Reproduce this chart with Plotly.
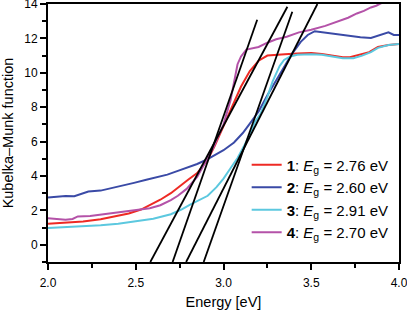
import plotly.graph_objects as go

# Curve 1 (red)
e1 = [2.0, 2.1, 2.2, 2.3, 2.39, 2.46, 2.53, 2.58, 2.64, 2.70, 2.75, 2.80, 2.85, 2.91, 2.95, 2.97, 3.0, 3.05, 3.10, 3.15, 3.20, 3.25, 3.30, 3.35, 3.42, 3.50, 3.56, 3.62, 3.68, 3.72, 3.78, 3.83, 3.88, 3.94, 4.0]
k1 = [1.22, 1.28, 1.36, 1.48, 1.65, 1.82, 2.05, 2.3, 2.62, 3.0, 3.42, 3.8, 4.17, 4.94, 5.75, 6.2, 6.95, 8.1, 9.2, 10.1, 10.7, 11.0, 11.05, 11.08, 11.12, 11.15, 11.1, 11.0, 10.9, 10.9, 11.05, 11.2, 11.5, 11.62, 11.68]

# Curve 2 (blue)
e2 = [2.0, 2.05, 2.1, 2.15, 2.2, 2.23, 2.3, 2.37, 2.43, 2.49, 2.56, 2.62, 2.68, 2.74, 2.79, 2.85, 2.9, 2.95, 3.0, 3.06, 3.11, 3.15, 3.20, 3.25, 3.30, 3.345, 3.39, 3.44, 3.48, 3.52, 3.57, 3.63, 3.70, 3.78, 3.84, 3.90, 3.94, 3.97, 4.0]
k2 = [2.75, 2.8, 2.83, 2.82, 3.0, 3.1, 3.15, 3.3, 3.45, 3.6, 3.78, 3.92, 4.08, 4.3, 4.48, 4.7, 4.93, 5.2, 5.5, 5.95, 6.5, 7.05, 7.75, 8.7, 9.55, 10.35, 11.1, 11.8, 12.2, 12.42, 12.35, 12.28, 12.2, 12.07, 12.02, 12.2, 12.35, 12.2, 12.2]

# Curve 3 (cyan)
e3 = [2.0, 2.1, 2.2, 2.3, 2.4, 2.5, 2.6, 2.7, 2.76, 2.81, 2.86, 2.91, 2.96, 3.0, 3.04, 3.08, 3.12, 3.15, 3.18, 3.21, 3.25, 3.28, 3.32, 3.345, 3.38, 3.42, 3.5, 3.56, 3.62, 3.68, 3.74, 3.79, 3.84, 3.88, 3.94, 4.0]
k3 = [0.97, 1.02, 1.07, 1.14, 1.22, 1.35, 1.52, 1.78, 2.05, 2.33, 2.6, 2.85, 3.35, 3.85, 4.45, 5.05, 5.8, 6.4, 7.15, 7.6, 8.6, 9.5, 10.4, 10.75, 10.95, 11.05, 11.08, 11.05, 10.95, 10.85, 10.85, 11.0, 11.2, 11.45, 11.62, 11.68]

# Curve 4 (magenta)
e4 = [2.0, 2.05, 2.1, 2.14, 2.17, 2.24, 2.3, 2.36, 2.43, 2.5, 2.58, 2.64, 2.70, 2.74, 2.79, 2.85, 2.9, 2.94, 2.97, 3.0, 3.04, 3.08, 3.10, 3.13, 3.2, 3.25, 3.3, 3.36, 3.43, 3.5, 3.58, 3.65, 3.71, 3.76, 3.80, 3.84, 3.87, 3.9, 3.95]
k4 = [1.55, 1.52, 1.45, 1.5, 1.65, 1.68, 1.76, 1.86, 1.94, 2.02, 2.13, 2.3, 2.6, 2.85, 3.25, 3.95, 4.85, 5.6, 6.3, 7.0, 8.4, 10.5, 10.95, 11.35, 11.5, 11.75, 11.95, 12.1, 12.35, 12.5, 12.73, 13.0, 13.2, 13.45, 13.6, 13.8, 13.9, 14.05, 14.3]

# Tangent lines (endpoints)
tan_e = [[2.710, 3.192], [2.583, 3.364], [2.887, 3.392], [2.787, 3.535]]
tan_k = [[-1.0, 13.08], [-1.0, 13.84], [-1.0, 13.55], [-1.0, 14.0]]

labels = ["<b>1</b>: <i>E</i><sub>g</sub> = 2.76 eV",
          "<b>2</b>: <i>E</i><sub>g</sub> = 2.60 eV",
          "<b>3</b>: <i>E</i><sub>g</sub> = 2.91 eV",
          "<b>4</b>: <i>E</i><sub>g</sub> = 2.70 eV"]
colors = ["#ee2a24", "#3a4aa6", "#5cc8df", "#b452a8"]

fig = go.Figure()
for i, (e, k) in enumerate([(e1, k1), (e2, k2), (e3, k3), (e4, k4)]):
    fig.add_trace(go.Scatter(x=e, y=k, mode="lines", name=labels[i],
                             legendgroup=str(i),
                             line=dict(color=colors[i], width=2)))
for e, k in zip(tan_e, tan_k):
    fig.add_trace(go.Scatter(x=e, y=k, mode="lines", showlegend=False,
                             line=dict(color="black", width=1.8)))

font = "Arial, Liberation Sans, sans-serif"
fig.update_layout(
    width=407, height=310,
    margin=dict(l=48, r=8, t=4, b=48),
    plot_bgcolor="white", paper_bgcolor="white",
    font=dict(family=font, size=12, color="black"),
    showlegend=True,
    legend=dict(x=0.566, y=0.246, xanchor="left", yanchor="middle",
                bgcolor="rgba(0,0,0,0)", font=dict(size=15),
                tracegroupgap=0),
    xaxis=dict(range=[2, 4], dtick=0.5, tick0=2, tickformat=".1f",
               automargin=False, ticklabeloverflow="allow", ticklabelstandoff=3,
               showgrid=False, zeroline=False, showline=True, linecolor="black",
               linewidth=2, mirror=True, ticks="outside", ticklen=6, tickwidth=2,
               tickcolor="black", tickfont=dict(size=12),
               minor=dict(dtick=0.25, ticks="outside", ticklen=4, tickwidth=2, tickcolor="black"),
               title=dict(text="Energy [eV]", font=dict(size=14.5), standoff=8)),
    yaxis=dict(range=[-1, 14], dtick=2, tick0=0,
               automargin=False, ticklabeloverflow="allow",
               showgrid=False, zeroline=False, showline=True, linecolor="black",
               linewidth=2, mirror=True, ticks="outside", ticklen=6, tickwidth=2,
               tickcolor="black", tickfont=dict(size=12),
               minor=dict(dtick=1, ticks="outside", ticklen=4, tickwidth=2, tickcolor="black"),
               title=dict(text="Kubelka–Munk function", font=dict(size=14.5))),
)
fig.write_html("out.html", config={"displayModeBar": False},
               post_script="document.body.style.margin='0';document.body.style.padding='0';")
